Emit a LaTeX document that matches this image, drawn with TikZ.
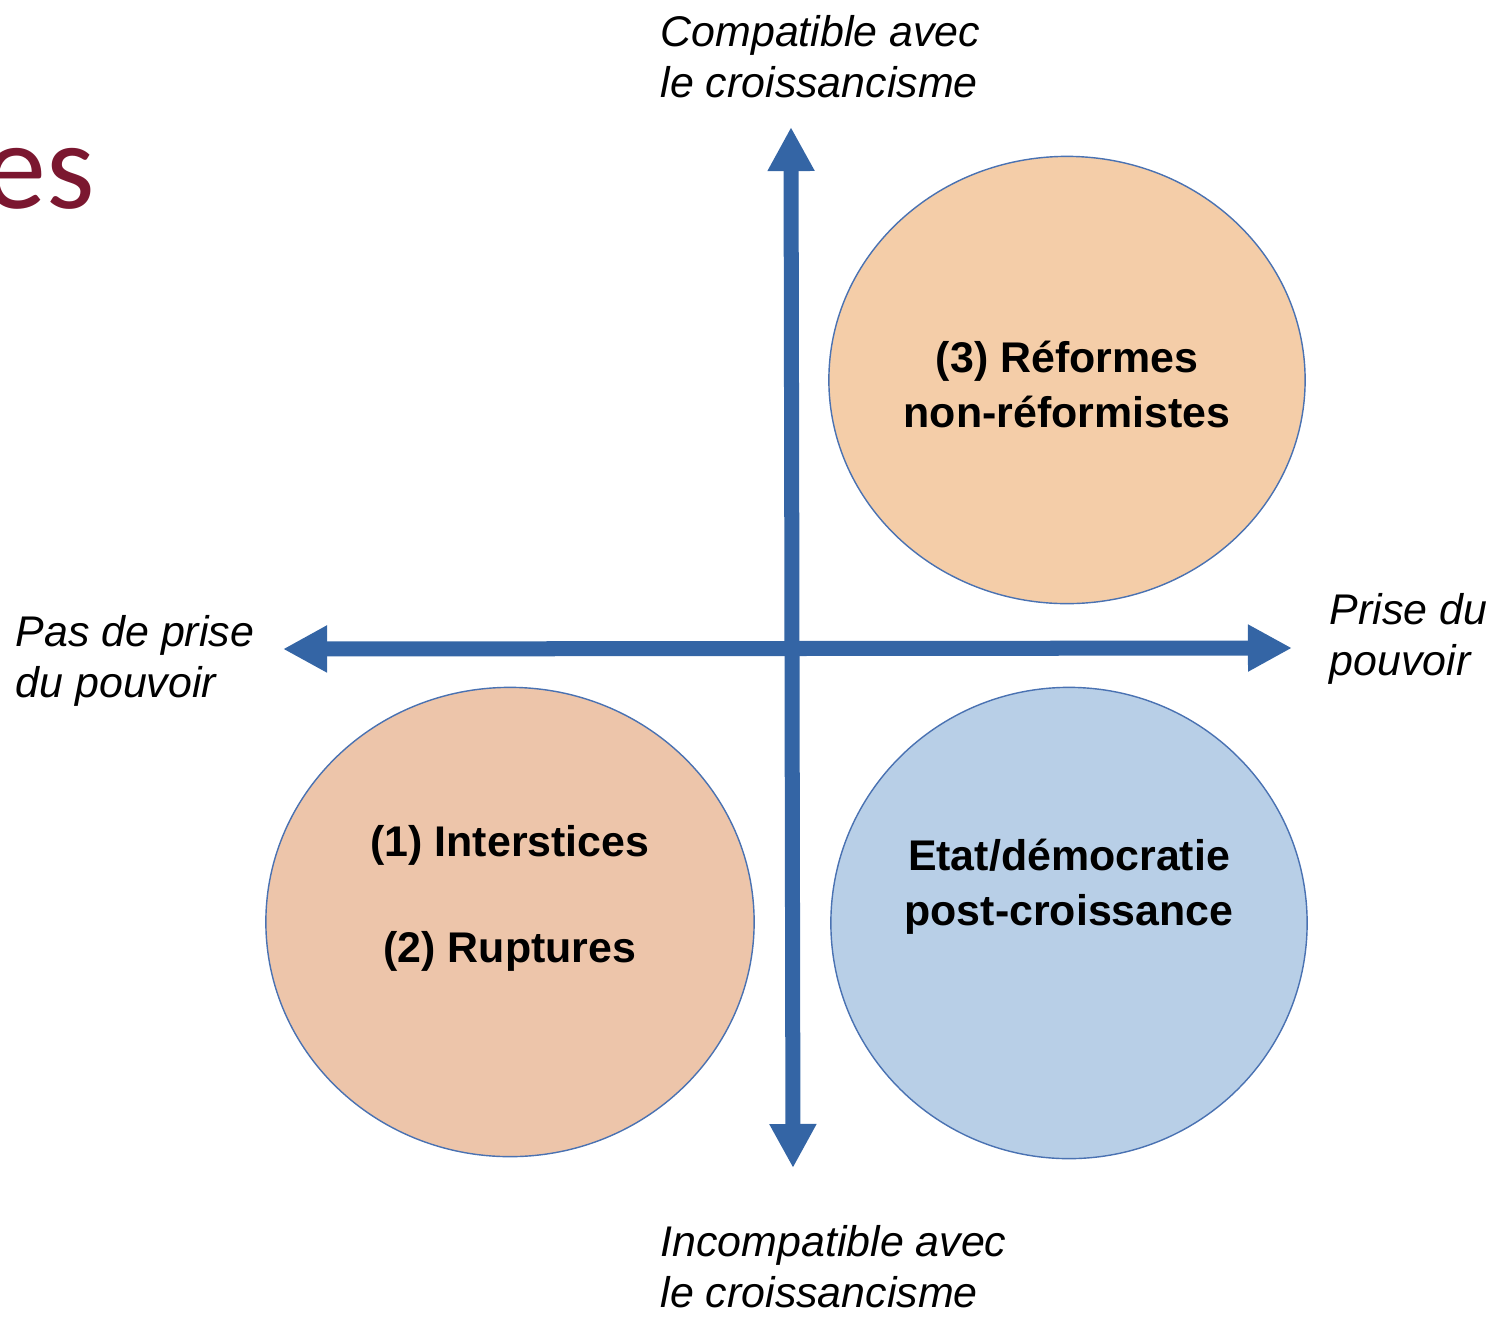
\documentclass[tikz,border=0pt]{standalone}
\usepackage{fontspec}
\setmainfont{Liberation Sans}
\newfontfamily\titlefont{Carlito}
\usetikzlibrary{arrows.meta,shapes.geometric}

\definecolor{axisblue}{HTML}{3465A5}
\definecolor{rimblue}{HTML}{4A72B2}
\definecolor{peachtop}{HTML}{F4CDA8}
\definecolor{peachlow}{HTML}{EDC5AA}
\definecolor{paleblue}{HTML}{B8CFE7}
\definecolor{titlered}{HTML}{7B1730}

\tikzset{
  axistip/.tip={Triangle[length=0.44cm,width=0.44cm]},
  axis/.style={draw=axisblue, line width=0.15cm, axistip-axistip},
  zone/.style={ellipse, draw=rimblue, line width=0.4pt, inner sep=0pt},
  zonetext/.style={font=\fontsize{12.2}{15.6}\selectfont\bfseries, align=center, inner sep=0pt, anchor=base},
  axislabel/.style={font=\fontsize{12.2}{14.5}\selectfont\itshape, align=left, inner sep=0pt, anchor=base west}
}

\begin{document}
\begin{tikzpicture}[x=0.01cm, y=-0.01cm]
\useasboundingbox (0,0) rectangle (1496,1317);
\clip (0,0) rectangle (1496,1317);
% cut title
\node[titlered, font=\titlefont\fontsize{35.3}{40}\selectfont, inner sep=0pt, anchor=base east] (title) at (96,208) {es};
% axis ends
\coordinate (north) at (791,127);
\coordinate (south) at (793,1168);
\coordinate (west) at (283,649);
\coordinate (east) at (1292,648);
\draw[axis] (south) -- (north);
\draw[axis] (west) -- (east);
% zones
\node[zone, fill=peachtop, minimum width=4.76cm, minimum height=4.47cm] (reformes) at (1067,380) {};
\node[zone, fill=peachlow, minimum width=4.88cm, minimum height=4.69cm] (interstices) at (510,922) {};
\node[zone, fill=paleblue, minimum width=4.76cm, minimum height=4.71cm] (etat) at (1069,923) {};
\node[zonetext] (reformestext) at (1067,427) {(3) Réformes\\non-réformistes};
\node[zonetext] (intersticestext) at (510,962) {(1) Interstices\\[14.5pt](2) Ruptures};
\node[zonetext] (etattext) at (1069,925) {Etat/démocratie\\post-croissance};
% axis labels
\node[axislabel] (compat) at (660,97) {Compatible avec\\le croissancisme};
\node[axislabel] (incompat) at (660,1307) {Incompatible avec\\le croissancisme};
\node[axislabel] (nopower) at (15,697) {Pas de prise\\du pouvoir};
\node[axislabel] (power) at (1329,675) {Prise du\\pouvoir};
\end{tikzpicture}
\end{document}
